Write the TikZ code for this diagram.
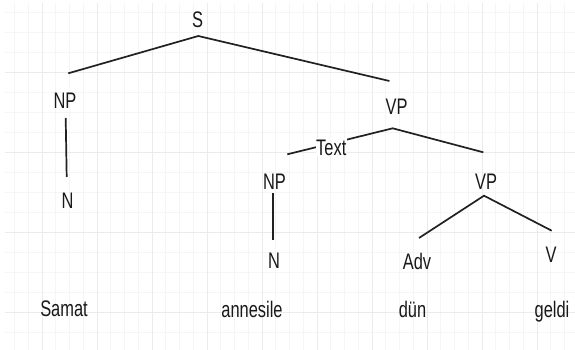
\documentclass[tikz,border=0pt]{standalone}
\usepackage{fontspec}
\setmainfont{Liberation Sans}[FakeStretch=0.73]
\begin{document}
\begin{tikzpicture}[x=1pt,y=-1pt,
  gridminor/.style={draw=black!4, line width=0.8pt},
  gridmajor/.style={draw=black!8, line width=0.9pt},
  lbl/.style={font=\fontsize{22.5}{25}\selectfont, inner sep=0pt, anchor=base, text=black!90},
  branch/.style={draw=black!87, line width=1.7pt}]
\useasboundingbox (0,0) rectangle (575,350);
\fill[white] (0,0) rectangle (575,350);
% background grid
\begin{scope}
\clip (5,4) rectangle (575,350);
\foreach \k in {-3,...,39} \draw[gridminor] ({42+13.75*\k},0) -- ({42+13.75*\k},350);
\foreach \k in {-4,...,14} \draw[gridminor] (0,{72+20*\k}) -- (575,{72+20*\k});
\foreach \k in {0,...,9} \draw[gridmajor] ({42+55*\k},0) -- ({42+55*\k},350);
\foreach \k in {0,...,3} \draw[gridmajor] (0,{72+80*\k}) -- (575,{72+80*\k});
\end{scope}
% labels
\node[lbl] (S) at (197.7,27.3) {S};
\node[lbl] (NPa) at (65,108.3) {NP};
\node[lbl] (Na) at (67.5,208) {N};
\node[lbl] (VPa) at (396.5,115) {VP};
\node[lbl] (NPb) at (274.5,189.5) {NP};
\node[lbl] (VPb) at (486,189.3) {VP};
\node[lbl] (Nb) at (274,268) {N};
\node[lbl] (Adv) at (417,269) {Adv};
\node[lbl] (V) at (551,262.7) {V};
\node[lbl] (w1) at (64,316.7) {Samat};
\node[lbl] (w2) at (252,317) {annesile};
\node[lbl] (w3) at (412.5,317) {dün};
\node[lbl] (w4) at (552,317) {geldi};
% branch end points
\coordinate (sApex) at (198.3,36);
\coordinate (sL) at (68.3,73.3);
\coordinate (sR) at (389.4,81);
\coordinate (npaTop) at (65.7,118);
\coordinate (npaBot) at (66.7,177);
\coordinate (vpApex) at (392.7,128.3);
\coordinate (vpL) at (287.3,154.3);
\coordinate (vpR) at (483.3,152.3);
\coordinate (npbTop) at (273.3,193);
\coordinate (npbBot) at (273.3,240);
\coordinate (vpbApex) at (484,195.7);
\coordinate (vpbL) at (419,238);
\coordinate (vpbR) at (551.7,230.7);
% branches
\draw[branch] (sL) -- (sApex) -- (sR);
\draw[branch] (npaTop) -- (npaBot);
\draw[branch] (vpL) -- (vpApex) -- (vpR);
\draw[branch] (npbTop) -- (npbBot);
\draw[branch] (vpbL) -- (vpbApex) -- (vpbR);
% edge label
\node[lbl, fill=white, inner xsep=0.3pt, inner ysep=1.2pt] (txt) at (331.3,155) {Text};
\end{tikzpicture}
\end{document}
